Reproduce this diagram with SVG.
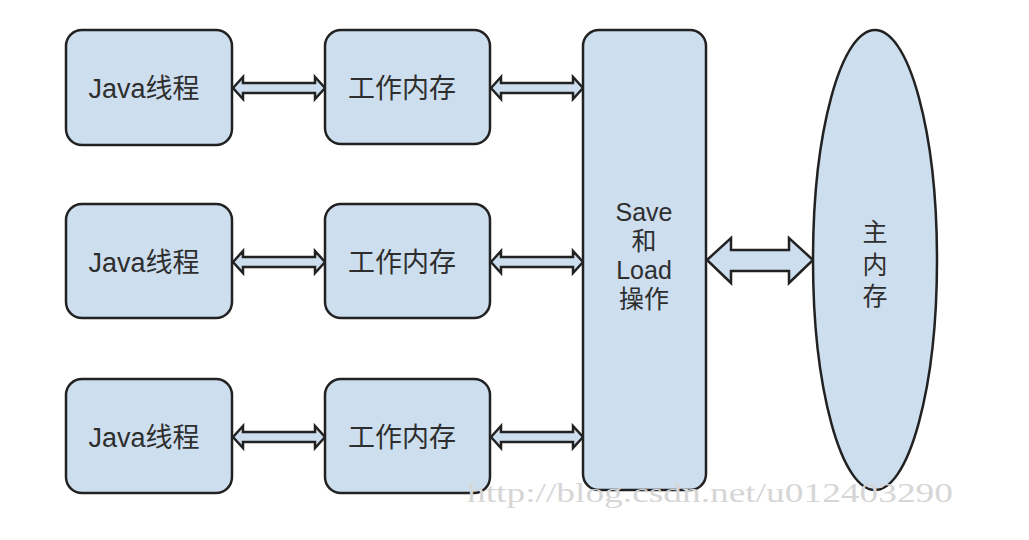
<svg xmlns="http://www.w3.org/2000/svg" width="1029" height="540" viewBox="0 0 1029 540">
<style>
.node{fill:#cddeee;stroke:#222;stroke-width:2.5}
.arr{fill:#cddeee;stroke:#222;stroke-width:2.5;stroke-linejoin:miter}
.t{font-family:"Liberation Sans","Noto Sans CJK SC",sans-serif;font-size:27px;fill:#2e2e2e;text-anchor:middle}
.t2{font-family:"Liberation Sans","Noto Sans CJK SC",sans-serif;font-size:25px;fill:#2e2e2e;text-anchor:middle}
.wm{font-family:"Liberation Serif",serif;font-size:27px;fill:#d6d6d6}
</style>
<rect width="1029" height="540" fill="#fff"/>
<g id="connectors">
<path class="arr" d="M233 88 L243 77 L243 83 L315 83 L315 77 L325 88 L315 99 L315 93 L243 93 L243 99 Z"/>
<path class="arr" d="M491 88 L501 77 L501 83 L573 83 L573 77 L583 88 L573 99 L573 93 L501 93 L501 99 Z"/>
<path class="arr" d="M233 262 L243 251 L243 257 L315 257 L315 251 L325 262 L315 273 L315 267 L243 267 L243 273 Z"/>
<path class="arr" d="M491 262 L501 251 L501 257 L573 257 L573 251 L583 262 L573 273 L573 267 L501 267 L501 273 Z"/>
<path class="arr" d="M233 437 L243 426 L243 432 L315 432 L315 426 L325 437 L315 448 L315 442 L243 442 L243 448 Z"/>
<path class="arr" d="M491 437 L501 426 L501 432 L573 432 L573 426 L583 437 L573 448 L573 442 L501 442 L501 448 Z"/>
<path class="arr" d="M707 260 L731 238 L731 250 L789 250 L789 238 L813 260 L789 283 L789 271 L731 271 L731 283 Z"/>
</g>
<g id="java1"><rect class="node" x="66" y="30" width="166" height="115" rx="16"/><text class="t" x="144" y="98">Java线程</text></g>
<g id="work1"><rect class="node" x="325" y="30" width="165" height="114" rx="16"/><text class="t" x="402" y="98">工作内存</text></g>
<g id="java2"><rect class="node" x="66" y="204" width="166" height="114" rx="16"/><text class="t" x="144" y="272">Java线程</text></g>
<g id="work2"><rect class="node" x="325" y="204" width="165" height="114" rx="16"/><text class="t" x="402" y="272">工作内存</text></g>
<g id="java3"><rect class="node" x="66" y="379" width="166" height="114" rx="16"/><text class="t" x="144" y="447">Java线程</text></g>
<g id="work3"><rect class="node" x="325" y="379" width="165" height="114" rx="16"/><text class="t" x="402" y="447">工作内存</text></g>
<g id="saveload"><rect class="node" x="583" y="30" width="123" height="460" rx="16"/>
<text class="t2" x="644" y="221">Save</text>
<text class="t2" x="644" y="250">和</text>
<text class="t2" x="644" y="279">Load</text>
<text class="t2" x="644" y="308">操作</text></g>
<g id="mainmem"><ellipse class="node" cx="875" cy="260" rx="62" ry="230"/>
<text class="t2" x="875" y="241">主</text>
<text class="t2" x="875" y="274">内</text>
<text class="t2" x="875" y="305">存</text></g>
<text class="wm" x="467" y="502" textLength="486" lengthAdjust="spacingAndGlyphs">http://blog.csdn.net/u012403290</text>
</svg>
